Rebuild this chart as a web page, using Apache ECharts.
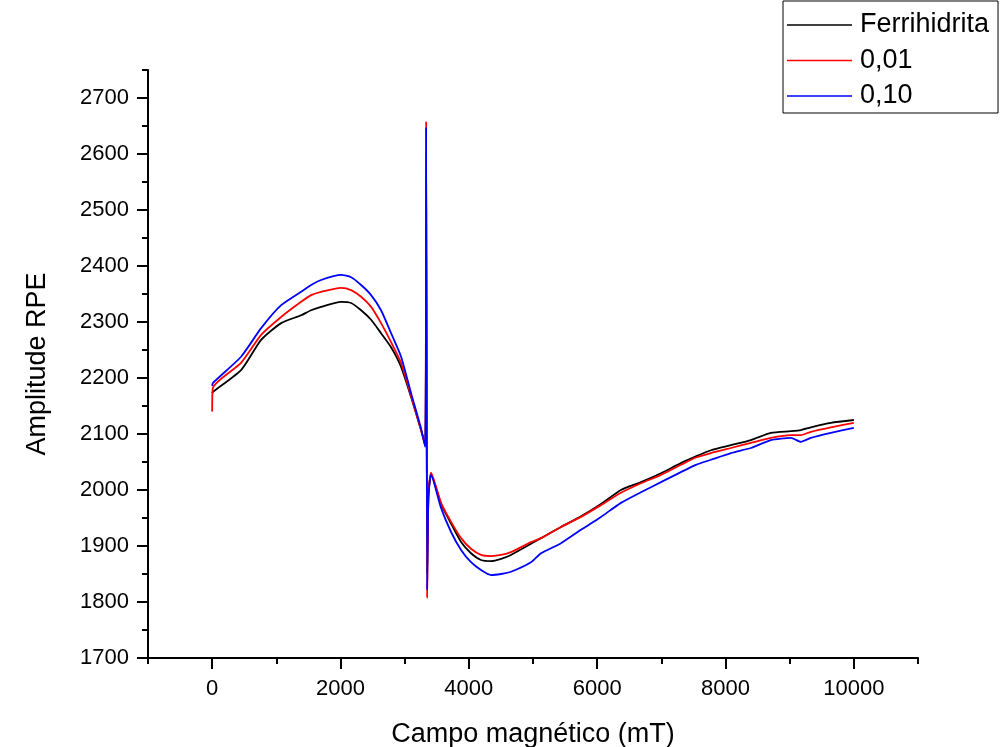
<!DOCTYPE html>
<html>
<head>
<meta charset="utf-8">
<script src="https://cdn.jsdelivr.net/npm/echarts@6/dist/echarts.min.js"></script>
<style>html,body{margin:0;padding:0;background:#fff;}#c{width:1004px;height:747px;}</style>
</head>
<body>
<div id="c"></div>
<script>
const fieldX = [0, 10, 450, 763, 1075, 1386, 1542, 1698, 2009, 2165, 2321, 2477, 2632, 2788, 2944, 3100, 3255, 3320, 3335, 3350, 3370, 3411, 3567, 3723, 3879, 4034, 4190, 4346, 4502, 4657, 4969, 5125, 5436, 5748, 6059, 6371, 6682, 6994, 7305, 7539, 7773, 8084, 8396, 8707, 9019, 9175, 9330, 9642, 10000];
const ferrihidrita = [2173, 2175, 2214, 2268, 2298, 2312, 2321, 2327, 2336, 2334, 2321, 2304, 2280, 2255, 2220, 2166, 2107, 2080, 2500, 1850, 1990, 2028, 1975, 1940, 1907, 1887, 1875, 1873, 1877, 1884, 1904, 1914, 1934, 1953, 1975, 2000, 2014, 2030, 2048, 2060, 2071, 2080, 2089, 2102, 2105, 2107, 2112, 2120, 2125];
const s001 = [2140, 2182, 2227, 2277, 2309, 2336, 2348, 2354, 2361, 2357, 2345, 2327, 2298, 2264, 2227, 2168, 2107, 2079, 2658, 1807, 1990, 2031, 1977, 1943, 1914, 1895, 1884, 1882, 1884, 1889, 1907, 1914, 1934, 1952, 1973, 1995, 2012, 2027, 2045, 2058, 2066, 2075, 2084, 2093, 2098, 2098, 2104, 2112, 2120];
const s010 = [2186, 2191, 2238, 2289, 2330, 2354, 2366, 2375, 2384, 2380, 2366, 2348, 2321, 2280, 2238, 2173, 2110, 2077, 2648, 1821, 1985, 2027, 1968, 1925, 1893, 1871, 1857, 1848, 1850, 1854, 1871, 1887, 1905, 1929, 1952, 1977, 1996, 2014, 2032, 2045, 2054, 2066, 2075, 2089, 2093, 2086, 2093, 2102, 2111];
const seriesNames = ['Ferrihidrita', '0,01', '0,10'];
const seriesColors = ['#000000', '#ff0000', '#0000ff'];
const xMajorTicks = [0, 2000, 4000, 6000, 8000, 10000];
const xMinorTicks = [-1000, 1000, 3000, 5000, 7000, 9000, 11000];
const yMajorTicks = [1700, 1800, 1900, 2000, 2100, 2200, 2300, 2400, 2500, 2600, 2700];
const yMinorTicks = [1750, 1850, 1950, 2050, 2150, 2250, 2350, 2450, 2550, 2650, 2750];

const pairs = arr => fieldX.map((x, i) => [x, arr[i]]);
const allData = [ferrihidrita, s001, s010];

const font = 'Liberation Sans, Arial, sans-serif';
const chart = echarts.init(document.getElementById('c'), null, {renderer: 'canvas'});
const axisLine = {show: true, onZero: false, lineStyle: {color: '#000', width: 2}};
const plain = v => String(v);
chart.setOption({
  animation: false,
  backgroundColor: '#fff',
  grid: {left: 148, right: 86, top: 70, bottom: 89, containLabel: false, outerBoundsMode: 'none'},
  legend: {
    orient: 'vertical', left: 783, top: 1,
    data: seriesNames,
    icon: 'rect', itemWidth: 65, itemHeight: 1.5,
    itemGap: 5.5,
    padding: [9, 9, 2, 4],
    borderColor: '#000', borderWidth: 1, backgroundColor: '#fff',
    textStyle: {fontFamily: font, fontSize: 27, color: '#000', lineHeight: 30, padding: [0, 0, 0, 3]}
  },
  xAxis: [{
    type: 'value', min: -1000, max: 11000,
    name: 'Campo magnético (mT)', nameLocation: 'middle', nameGap: 63,
    nameTextStyle: {fontFamily: font, fontSize: 27, color: '#000'},
    axisLine: axisLine,
    axisTick: {show: true, customValues: xMajorTicks, length: 11, lineStyle: {color: '#000', width: 2}},
    axisLabel: {show: true, customValues: xMajorTicks, formatter: plain, fontFamily: font, fontSize: 22, color: '#000', margin: 20},
    splitLine: {show: false}
  }, {
    type: 'value', min: -1000, max: 11000, position: 'bottom',
    axisLine: {show: false, onZero: false},
    axisTick: {show: true, customValues: xMinorTicks, length: 6, lineStyle: {color: '#000', width: 2}},
    axisLabel: {show: false},
    splitLine: {show: false}
  }],
  yAxis: [{
    type: 'value', min: 1700, max: 2750,
    name: 'Amplitude RPE', nameLocation: 'middle', nameGap: 97,
    nameTextStyle: {fontFamily: font, fontSize: 27, color: '#000'},
    axisLine: axisLine,
    axisTick: {show: true, customValues: yMajorTicks, length: 11, lineStyle: {color: '#000', width: 2}},
    axisLabel: {show: true, customValues: yMajorTicks, formatter: plain, fontFamily: font, fontSize: 22, color: '#000', margin: 19},
    splitLine: {show: false}
  }, {
    type: 'value', min: 1700, max: 2750, position: 'left',
    axisLine: {show: false, onZero: false},
    axisTick: {show: true, customValues: yMinorTicks, length: 6, lineStyle: {color: '#000', width: 2}},
    axisLabel: {show: false},
    splitLine: {show: false}
  }],
  series: seriesNames.map((n, i) => ({
    name: n, type: 'line', data: pairs(allData[i]),
    xAxisIndex: 0, yAxisIndex: 0,
    showSymbol: false, symbol: 'none',
    smooth: 0.2,
    itemStyle: {color: seriesColors[i]},
    lineStyle: {color: seriesColors[i], width: 1.8},
    z: 2 + i
  }))
});
</script>
</body>
</html>
